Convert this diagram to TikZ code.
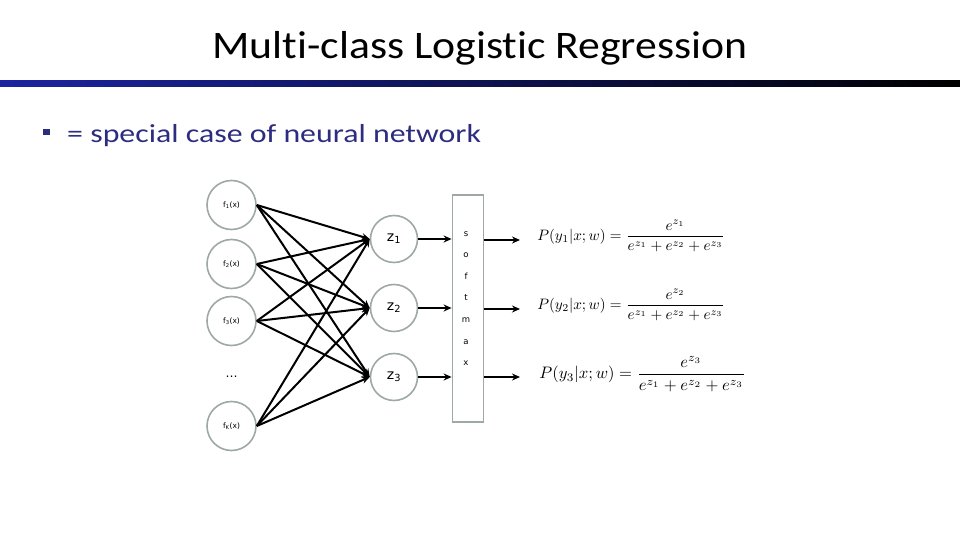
\documentclass[tikz,border=0pt]{standalone}
\usepackage{fontspec}
\usepackage{amsmath}
\setmainfont{Carlito}[Ligatures={NoCommon}]
\newfontfamily\dvs{DejaVu Sans}
\usetikzlibrary{arrows.meta}
\definecolor{ringgrey}{RGB}{158,168,168}
\definecolor{bultext}{RGB}{44,44,128}
\tikzset{
  inp/.style={circle,draw=ringgrey,line width=1.6pt,fill=white,minimum size=49pt,inner sep=0pt,font=\dvs\fontsize{7.5}{8}\selectfont},
  dotsnode/.style={circle,minimum size=49pt,inner sep=0pt,font=\dvs\fontsize{12}{14}\selectfont},
  hid/.style={circle,draw=ringgrey,line width=1.6pt,fill=white,minimum size=47pt,inner sep=0pt,font=\dvs\fontsize{14}{16}\selectfont},
  wire/.style={line width=2pt,-{Stealth[length=8pt,width=7pt]}},
  letter/.style={font=\dvs\fontsize{8.5}{9}\selectfont,inner sep=0pt},
  formula/.style={anchor=west,inner sep=0pt,scale=1.51},
}
\begin{document}
\begin{tikzpicture}[x=1pt,y=-1pt]
\useasboundingbox (0,0) rectangle (960,540);
% title
\node[anchor=base,font=\fontsize{39}{44}\selectfont,xscale=1.12] (title) at (480,59) {Multi-class Logistic Regression};
\shade[left color={rgb,255:red,28;green,36;blue,160},right color=black] (0,81) rectangle (960,87);
% bullet
\node[fill=bultext,minimum size=6.5pt,inner sep=0pt] (bul) at (46.5,132) {};
\node[anchor=base west,text=bultext,font=\fontsize{26}{30}\selectfont,inner sep=0pt,xscale=1.225] (btext) at (67,143) {= special case of neural network};
% softmax box
\node[draw=ringgrey,line width=1.8pt,minimum width=31pt,minimum height=227pt,inner sep=0pt] (box) at (468,308.5) {};
\node[letter] (ls) at (466,234) {s};
\node[letter] (lo) at (466,255) {o};
\node[letter] (lf) at (466,276) {f};
\node[letter] (lt) at (466,298) {t};
\node[letter] (lm) at (466,320) {m};
\node[letter] (la) at (466,342) {a};
\node[letter] (lx) at (466,363) {x};
% input nodes
\node[inp] (f1) at (231.5,205) {f\textsubscript{1}(x)};
\node[inp] (f2) at (231.5,264) {f\textsubscript{2}(x)};
\node[inp] (f3) at (231.5,321) {f\textsubscript{3}(x)};
\node[dotsnode] (fd) at (231.5,377) {\dots};
\node[inp] (fk) at (231.5,426) {f\textsubscript{K}(x)};
% hidden nodes
\node[hid] (z1) at (394,239) {z\textsubscript{1}};
\node[hid] (z2) at (394,308) {z\textsubscript{2}};
\node[hid] (z3) at (394,377) {z\textsubscript{3}};
% wires
\foreach \s in {f1,f2,f3,fk}{
  \foreach \t in {z1,z2,z3}{
    \draw[wire] (\s.east) -- (\t.west);
  }
}
\foreach \t in {z1,z2,z3}{
  \draw[wire] (\t.east) -- (\t.east -| box.west);
}
% formulas
\node[formula] (p1) at (537,236) {$\displaystyle P(y_1|x;w)=\frac{e^{z_1}}{e^{z_1}+e^{z_2}+e^{z_3}}$};
\node[formula] (p2) at (537,305) {$\displaystyle P(y_2|x;w)=\frac{e^{z_2}}{e^{z_1}+e^{z_2}+e^{z_3}}$};
\node[formula,scale=1.1] (p3) at (539,374) {$\displaystyle P(y_3|x;w)=\frac{e^{z_3}}{e^{z_1}+e^{z_2}+e^{z_3}}$};
\coordinate (a1) at (520,240);
\coordinate (a2) at (520,309);
\coordinate (a3) at (520,377);
\draw[wire] (box.east |- a1) -- (a1);
\draw[wire] (box.east |- a2) -- (a2);
\draw[wire] (box.east |- a3) -- (a3);
\end{tikzpicture}
\end{document}
